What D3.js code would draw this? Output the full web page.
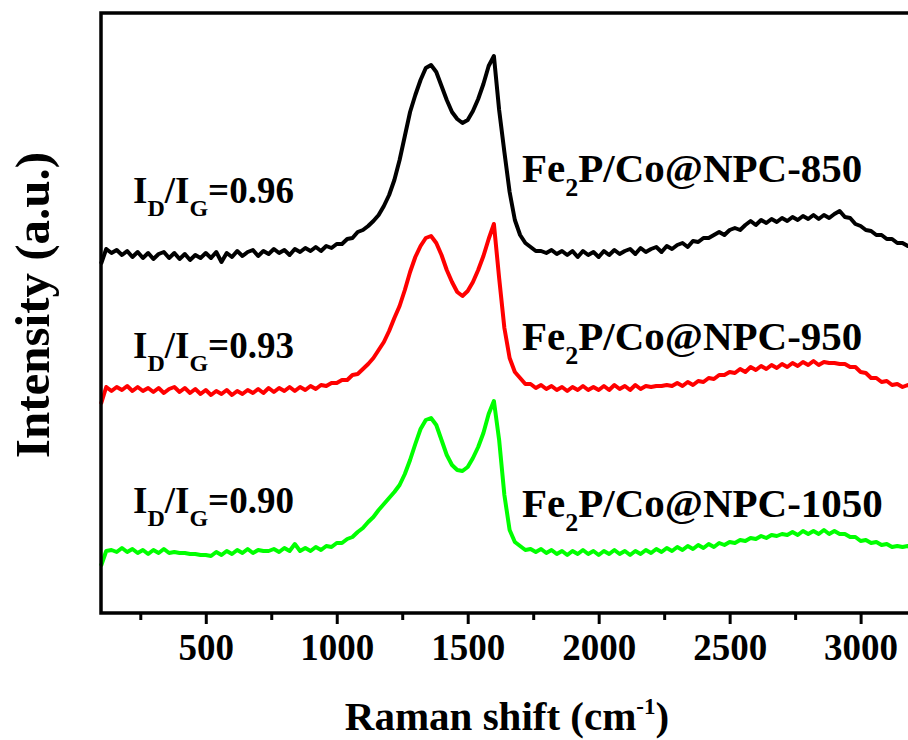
<!DOCTYPE html>
<html>
<head>
<meta charset="utf-8">
<script src="https://cdn.jsdelivr.net/npm/d3@7"></script>
<style>
  html, body { margin: 0; padding: 0; background: #fff; }
  svg { display: block; font-family: "Liberation Serif", "Times New Roman", serif; font-weight: bold; }
</style>
</head>
<body>
<svg id="chart" width="908" height="740"></svg>
<script>
// Raman shift sampling grid (cm^-1)
const shiftStart = 100, shiftEnd = 3200, shiftStep = 20;
const ramanShift = d3.range(shiftStart, shiftEnd + 1, shiftStep);

// Axis ticks
const majorTicks = [500, 1000, 1500, 2000, 2500, 3000];
const minorTicks = [250, 750, 1250, 1750, 2250, 2750];

// Stacked Raman intensities (a.u.), one value per grid point
const series850 = [
  349, 364, 360, 363, 358, 362, 356, 361, 355, 360,
  354, 359, 361, 355, 360, 354, 359, 353, 358, 355,
  360, 355, 361, 351, 360, 356, 362, 357, 361, 363,
  357, 362, 359, 364, 360, 363, 358, 364, 361, 365,
  362, 366, 362, 367, 365, 369, 369, 374, 375, 381,
  383, 387, 392, 398, 407, 418, 433, 453, 477, 501,
  518, 533, 545, 548, 541, 527, 513, 501, 494, 490,
  493, 502, 514, 529, 547, 557, 503, 461, 421, 393,
  378, 370, 366, 362, 362, 360, 363, 359, 362, 358,
  362, 356, 362, 358, 361, 356, 362, 358, 363, 359,
  362, 364, 359, 365, 361, 364, 366, 361, 367, 364,
  368, 370, 366, 372, 371, 375, 375, 378, 381, 378,
  383, 385, 383, 388, 392, 388, 393, 390, 394, 391,
  395, 392, 396, 393, 397, 394, 398, 394, 398, 395,
  399, 402, 396, 395, 389, 387, 383, 382, 378, 378,
  374, 374, 370, 370, 367, 367
];
const series950 = [
  209, 226, 222, 226, 223, 227, 222, 226, 222, 225,
  221, 225, 220, 224, 226, 221, 225, 220, 224, 219,
  223, 218, 222, 219, 223, 218, 222, 219, 223, 220,
  224, 220, 225, 221, 225, 222, 226, 222, 226, 223,
  227, 224, 228, 227, 230, 230, 233, 233, 238, 239,
  244, 249, 255, 263, 271, 282, 295, 307, 323, 341,
  356, 367, 375, 377, 370, 358, 343, 331, 321, 317,
  322, 331, 343, 357, 374, 389, 335, 285, 255, 241,
  235, 229, 229, 225, 228, 224, 227, 223, 226, 222,
  226, 223, 227, 223, 226, 223, 227, 223, 228, 224,
  227, 223, 228, 224, 227, 226, 227, 227, 228, 227,
  230, 227, 231, 228, 232, 231, 235, 234, 238, 238,
  241, 240, 244, 241, 246, 243, 247, 244, 248, 245,
  249, 246, 250, 247, 251, 248, 252, 248, 251, 250,
  250, 249, 249, 246, 246, 241, 240, 235, 235, 231,
  232, 228, 229, 226, 228, 225
];
const series1050 = [
  47, 62, 63, 61, 65, 61, 64, 60, 63, 59,
  63, 60, 64, 60, 61, 60, 60, 59, 59, 58,
  58, 57, 61, 58, 62, 59, 63, 60, 64, 60,
  63, 62, 62, 64, 61, 65, 62, 69, 62, 65,
  62, 66, 63, 67, 66, 70, 70, 74, 76, 81,
  85, 91, 96, 103, 109, 115, 121, 128, 139, 153,
  169, 184, 193, 195, 188, 173, 158, 148, 143, 142,
  146, 155, 166, 180, 199, 212, 173, 118, 83, 71,
  67, 63, 64, 61, 64, 60, 63, 59, 62, 58,
  62, 59, 63, 59, 62, 58, 62, 59, 63, 59,
  62, 58, 62, 59, 63, 60, 64, 61, 65, 62,
  66, 63, 67, 64, 68, 65, 69, 66, 70, 68,
  71, 70, 73, 72, 75, 74, 77, 75, 78, 77,
  79, 78, 81, 78, 82, 79, 82, 79, 83, 79,
  82, 79, 79, 76, 76, 72, 73, 70, 71, 68,
  69, 66, 67, 66, 67, 64
];

const seriesValues = [series850, series950, series1050];
const seriesColors = ["#000000", "#ff0000", "#00ff00"];
const sampleTemps = ["850", "950", "1050"];
const ratioValues = ["0.96", "0.93", "0.90"];

// Label anchor intensities (a.u.) on the same scale as the spectra
const sampleLabelLevel = [431, 263, 96];
const ratioLabelLevel = [410, 255, 100];

// ---- layout ----
const svg = d3.select("#chart");
const plot = { left: 101, top: 13, right: 913, bottom: 613 };

const x = d3.scaleLinear().domain([shiftStart, shiftEnd]).range([plot.left, plot.right]);
const y = d3.scaleLinear().domain([0, 600]).range([plot.bottom, plot.top]);

svg.append("rect").attr("width", 908).attr("height", 740).attr("fill", "#fff");

// spectra
const line = d3.line()
  .x((d, i) => x(ramanShift[i]))
  .y(d => y(d));

const spectra = svg.append("g");
[2, 1, 0].forEach(k => {
  spectra.append("path")
    .datum(seriesValues[k])
    .attr("d", line)
    .attr("fill", "none")
    .attr("stroke", seriesColors[k])
    .attr("stroke-width", 4)
    .attr("stroke-linejoin", "round");
});

// frame
svg.append("rect")
  .attr("x", plot.left).attr("y", plot.top)
  .attr("width", plot.right - plot.left).attr("height", plot.bottom - plot.top)
  .attr("fill", "none").attr("stroke", "#000").attr("stroke-width", 3.5);

// bottom axis: major ticks with labels
const axisMajor = svg.append("g")
  .attr("transform", `translate(0,${plot.bottom})`)
  .call(d3.axisBottom(x).tickValues(majorTicks).tickSize(11).tickFormat(d3.format("d")));
axisMajor.select(".domain").remove();
axisMajor.selectAll(".tick line").attr("stroke", "#000").attr("stroke-width", 3);
axisMajor.selectAll(".tick text")
  .attr("y", 47).attr("dy", null)
  .attr("fill", "#000")
  .style("font-size", "37px")
  .style("font-family", "'Liberation Serif', 'Times New Roman', serif")
  .style("font-weight", "bold");

// bottom axis: minor ticks
const axisMinor = svg.append("g")
  .attr("transform", `translate(0,${plot.bottom})`)
  .call(d3.axisBottom(x).tickValues(minorTicks).tickSize(7).tickFormat(""));
axisMinor.select(".domain").remove();
axisMinor.selectAll(".tick line").attr("stroke", "#000").attr("stroke-width", 3);

// axis titles
const xTitle = svg.append("text")
  .attr("x", (plot.left + plot.right) / 2).attr("y", 730)
  .attr("text-anchor", "middle")
  .style("font-size", "41px");
xTitle.append("tspan").text("Raman shift (cm");
xTitle.append("tspan").text("-1").style("font-size", "23px").attr("dy", -16);
xTitle.append("tspan").text(")").attr("dy", 16);

svg.append("text")
  .attr("transform", "translate(49,305) rotate(-90)")
  .attr("text-anchor", "middle")
  .style("font-size", "49px")
  .text("Intensity (a.u.)");

// sample names
sampleTemps.forEach((t, k) => {
  const lbl = svg.append("text")
    .attr("x", 522).attr("y", y(sampleLabelLevel[k]))
    .style("font-size", "41px");
  lbl.append("tspan").text("Fe");
  lbl.append("tspan").text("2").style("font-size", "26px").attr("dy", 14);
  lbl.append("tspan").text("P/Co@NPC-" + t).attr("dy", -14);
});

// I_D/I_G ratios
ratioValues.forEach((r, k) => {
  const lbl = svg.append("text")
    .attr("x", 133).attr("y", y(ratioLabelLevel[k]))
    .style("font-size", "37px");
  lbl.append("tspan").text("I");
  lbl.append("tspan").text("D").style("font-size", "24px").attr("dy", 13);
  lbl.append("tspan").text("/I").attr("dy", -13);
  lbl.append("tspan").text("G").style("font-size", "24px").attr("dy", 13);
  lbl.append("tspan").text("=" + r).attr("dy", -13);
});
</script>
</body>
</html>
